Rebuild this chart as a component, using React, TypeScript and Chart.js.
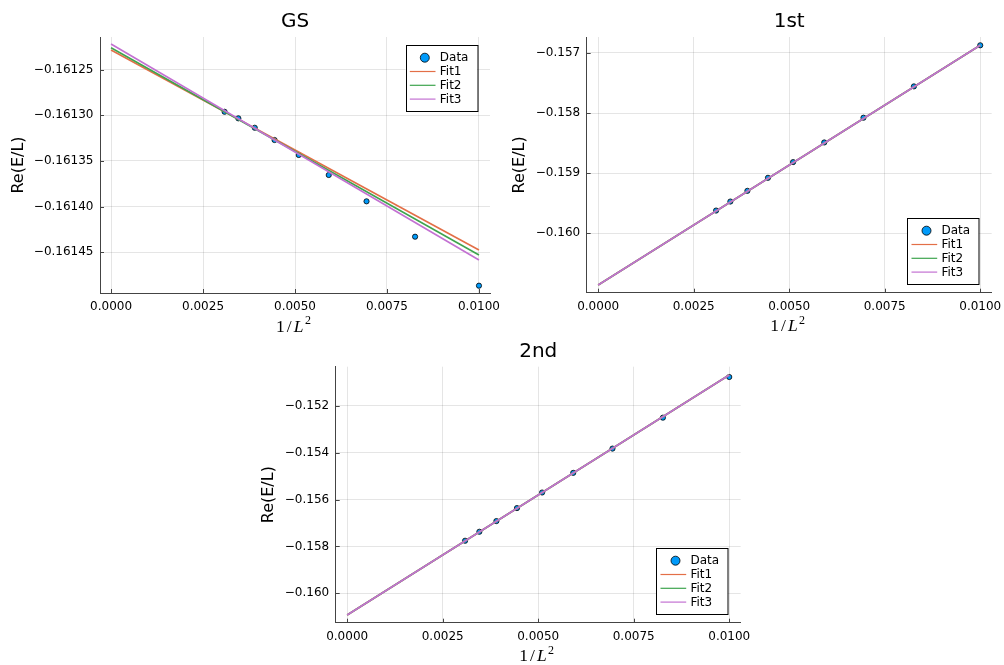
import React, { useEffect, useRef } from "react";
import { Chart, registerables } from "chart.js";
Chart.register(...registerables);

// ---- data ----
const xData = [0.01, 0.008264, 0.006944, 0.005917, 0.005102, 0.004444, 0.003906, 0.00346, 0.003086];
const fitX = [0, 0.01];
const xTicks = [0, 0.0025, 0.005, 0.0075, 0.01];
const seriesLabels = ["Data", "Fit1", "Fit2", "Fit3"];

const gsData = [-0.1614865, -0.1614329, -0.1613942, -0.1613654, -0.1613435, -0.1613271, -0.1613137, -0.1613034, -0.1612962];
const gsFit1 = [-0.1612287, -0.1614475];
const gsFit2 = [-0.1612262, -0.161453];
const gsFit3 = [-0.1612221, -0.1614584];
const gsYTicks = [-0.16125, -0.1613, -0.16135, -0.1614, -0.16145];

const firstData = [-0.156873, -0.157557, -0.158078, -0.15849, -0.158817, -0.159078, -0.159295, -0.159473, -0.159623];
const firstFit1 = [-0.160862, -0.156873];
const firstFit2 = [-0.160862, -0.156873];
const firstFit3 = [-0.160862, -0.156873];
const firstYTicks = [-0.157, -0.158, -0.159, -0.16];

const secondData = [-0.150779, -0.152511, -0.15383, -0.154864, -0.155702, -0.156366, -0.156919, -0.157374, -0.157757];
const secondFit1 = [-0.160923, -0.150694];
const secondFit2 = [-0.160923, -0.150694];
const secondFit3 = [-0.160923, -0.150694];
const secondYTicks = [-0.152, -0.154, -0.156, -0.158, -0.16];

const COLORS = ["#009AFA", "#E36F47", "#3EA44E", "#C371D2"];
const AXIS = "#444";
const SANS = '"DejaVu Sans"';

type Panel = {
  key: string;
  title: string;
  data: number[];
  fits: number[][];
  yTicks: number[];
  yDigits: number;
  yMin: number;
  yMax: number;
  left: number;
  top: number;
  width: number;
  height: number;
  area: { left: number; right: number; top: number; bottom: number };
  legendTop: boolean;
  yTitlePad: number;
};

const panels: Panel[] = [
  {
    key: "gs", title: "GS", data: gsData, fits: [gsFit1, gsFit2, gsFit3], yTicks: gsYTicks, yDigits: 5,
    yMin: -0.1614945, yMax: -0.1612144,
    left: 0, top: 0, width: 500, height: 340,
    area: { left: 100, right: 490, top: 37, bottom: 293 }, legendTop: true, yTitlePad: 9,
  },
  {
    key: "first", title: "1st", data: firstData, fits: [firstFit1, firstFit2, firstFit3], yTicks: firstYTicks, yDigits: 3,
    yMin: -0.16099, yMax: -0.156735,
    left: 500, top: 0, width: 504, height: 340,
    area: { left: 86.7, right: 491.7, top: 37, bottom: 292.7 }, legendTop: false, yTitlePad: 10.3,
  },
  {
    key: "second", title: "2nd", data: secondData, fits: [secondFit1, secondFit2, secondFit3], yTicks: secondYTicks, yDigits: 3,
    yMin: -0.16125, yMax: -0.15034,
    left: 250, top: 330, width: 500, height: 335,
    area: { left: 85.7, right: 490.7, top: 36.7, bottom: 292.7 }, legendTop: false, yTitlePad: 9,
  },
];

const fmt = (v: number, d: number) => {
  const s = Math.abs(v).toFixed(d);
  return v < -1e-12 ? "\u2212" + s : s;
};

function decorPlugin(p: Panel) {
  return {
    id: "decor_" + p.key,
    afterDraw(chart: any) {
      const { ctx, chartArea: ca } = chart;
      const xs = chart.scales.x;
      const ys = chart.scales.y;
      ctx.save();
      // inner tick marks
      ctx.strokeStyle = AXIS;
      ctx.lineWidth = 1;
      ctx.beginPath();
      xs.ticks.forEach((t: any) => {
        const px = Math.round(xs.getPixelForValue(t.value)) + 0.5;
        ctx.moveTo(px, ca.bottom);
        ctx.lineTo(px, ca.bottom - 4);
      });
      ys.ticks.forEach((t: any) => {
        const py = Math.round(ys.getPixelForValue(t.value)) + 0.5;
        ctx.moveTo(ca.left, py);
        ctx.lineTo(ca.left + 4, py);
      });
      ctx.stroke();

      // title
      ctx.fillStyle = "#000";
      ctx.font = `20px ${SANS}`;
      ctx.textAlign = "center";
      ctx.textBaseline = "alphabetic";
      ctx.fillText(p.title, (ca.left + ca.right) / 2, ca.top - 10);

      // x label: 1/L^2
      const big = '17.5px "Liberation Serif"';
      const bigIt = 'italic 17.5px "Liberation Serif"';
      const small = '12px "Liberation Serif"';
      const parts: [string, string, number, number][] = [
        ["1", big, 0, 2],
        ["/", big, 0, 2],
        ["L", bigIt, 0, 1.5],
        ["2", small, -7.5, 0],
      ];
      let total = 0;
      const widths = parts.map(([t, f, , g]) => {
        ctx.font = f;
        const w = ctx.measureText(t).width;
        total += w + g;
        return w;
      });
      let cx = (ca.left + ca.right) / 2 - total / 2 - 1.5;
      const base = ca.bottom + 38.5;
      ctx.textAlign = "left";
      parts.forEach(([t, f, dy, g], i) => {
        ctx.font = f;
        ctx.fillText(t, cx, base + dy);
        cx += widths[i] + g;
      });

      // legend
      const lw = 71.5;
      const lh = 66;
      const bx = ca.right - 13 - lw;
      const by = p.legendTop ? ca.top + 8 : ca.bottom - 8.7 - lh;
      ctx.fillStyle = "#fff";
      ctx.fillRect(bx, by, lw, lh);
      ctx.strokeStyle = "#000";
      ctx.lineWidth = 1;
      ctx.strokeRect(Math.round(bx) + 0.5, Math.round(by) + 0.5, lw, lh);
      ctx.font = `12px ${SANS}`;
      ctx.textBaseline = "middle";
      ctx.textAlign = "left";
      chart.data.datasets.forEach((ds: any, i: number) => {
        const ry = by + 12.7 + i * 13.8;
        if (i === 0) {
          ctx.beginPath();
          ctx.arc(bx + 19.3, ry, 4.5, 0, Math.PI * 2);
          ctx.fillStyle = COLORS[0];
          ctx.fill();
          ctx.strokeStyle = "#000";
          ctx.lineWidth = 0.8;
          ctx.stroke();
        } else {
          ctx.beginPath();
          ctx.moveTo(bx + 4.3, ry);
          ctx.lineTo(bx + 30, ry);
          ctx.strokeStyle = COLORS[i];
          ctx.lineWidth = 1.2;
          ctx.stroke();
        }
        ctx.fillStyle = "#000";
        ctx.fillText(ds.label, bx + 34.3, ry + 0.5);
      });
      ctx.restore();
    },
  };
}

function makeConfig(p: Panel): any {
  const datasets: any[] = [
    {
      label: seriesLabels[0],
      data: xData.map((x, i) => ({ x, y: p.data[i] })),
      showLine: false,
      pointRadius: 2.6,
      pointBackgroundColor: COLORS[0],
      pointBorderColor: "#000",
      pointBorderWidth: 0.8,
      order: 3,
    },
  ];
  p.fits.forEach((f, k) => {
    datasets.push({
      label: seriesLabels[k + 1],
      data: fitX.map((x, i) => ({ x, y: f[i] })),
      showLine: true,
      borderColor: COLORS[k + 1],
      borderWidth: 1.6,
      pointRadius: 0,
      order: 2 - k,
    });
  });
  return {
    type: "scatter",
    data: { datasets },
    options: {
      animation: false,
      responsive: false,
      maintainAspectRatio: false,
      layout: { padding: { top: p.area.top, right: p.width - p.area.right, left: 0, bottom: 0 } },
      plugins: { legend: { display: false }, tooltip: { enabled: false }, title: { display: false } },
      scales: {
        x: {
          type: "linear",
          min: -0.0003,
          max: 0.0103,
          afterBuildTicks: (s: any) => {
            s.ticks = xTicks.map((v) => ({ value: v }));
          },
          afterFit: (s: any) => {
            s.height = p.height - p.area.bottom;
            s.paddingLeft = 0;
            s.paddingRight = 0;
          },
          ticks: {
            callback: (v: any) => Number(v).toFixed(4),
            color: "#000",
            font: { family: "DejaVu Sans", size: 12 },
            padding: 6.5,
            maxRotation: 0,
            autoSkip: false,
          },
          grid: { color: "rgba(0,0,0,0.1)", drawTicks: false, lineWidth: 1 },
          border: { display: true, color: AXIS, width: 1 },
        },
        y: {
          type: "linear",
          min: p.yMin,
          max: p.yMax,
          afterBuildTicks: (s: any) => {
            s.ticks = p.yTicks.map((v) => ({ value: v }));
          },
          afterFit: (s: any) => {
            s.width = p.area.left;
            s.paddingTop = 0;
            s.paddingBottom = 0;
          },
          ticks: {
            callback: (v: any) => fmt(Number(v), p.yDigits),
            color: "#000",
            font: { family: "DejaVu Sans", size: 12 },
            padding: 6.5,
            autoSkip: false,
          },
          grid: { color: "rgba(0,0,0,0.1)", drawTicks: false, lineWidth: 1 },
          border: { display: true, color: AXIS, width: 1 },
          title: {
            display: true,
            text: "Re(E/L)",
            color: "#000",
            font: { family: "DejaVu Sans", size: 16 },
            padding: { top: p.yTitlePad, bottom: 0 },
          },
        },
      },
    },
    plugins: [decorPlugin(p)],
  };
}

function PanelChart({ p }: { p: Panel }) {
  const ref = useRef<HTMLCanvasElement | null>(null);
  useEffect(() => {
    if (!ref.current) return;
    const chart = new Chart(ref.current, makeConfig(p));
    return () => chart.destroy();
  }, [p]);
  return (
    <canvas
      ref={ref}
      width={p.width}
      height={p.height}
      style={{ position: "absolute", left: p.left, top: p.top, width: p.width, height: p.height }}
    />
  );
}

export default function App() {
  return (
    <div style={{ position: "absolute", left: 0, top: 0, width: 1004, height: 665, background: "#fff", overflow: "hidden" }}>
      {panels.map((p) => (
        <PanelChart key={p.key} p={p} />
      ))}
    </div>
  );
}
